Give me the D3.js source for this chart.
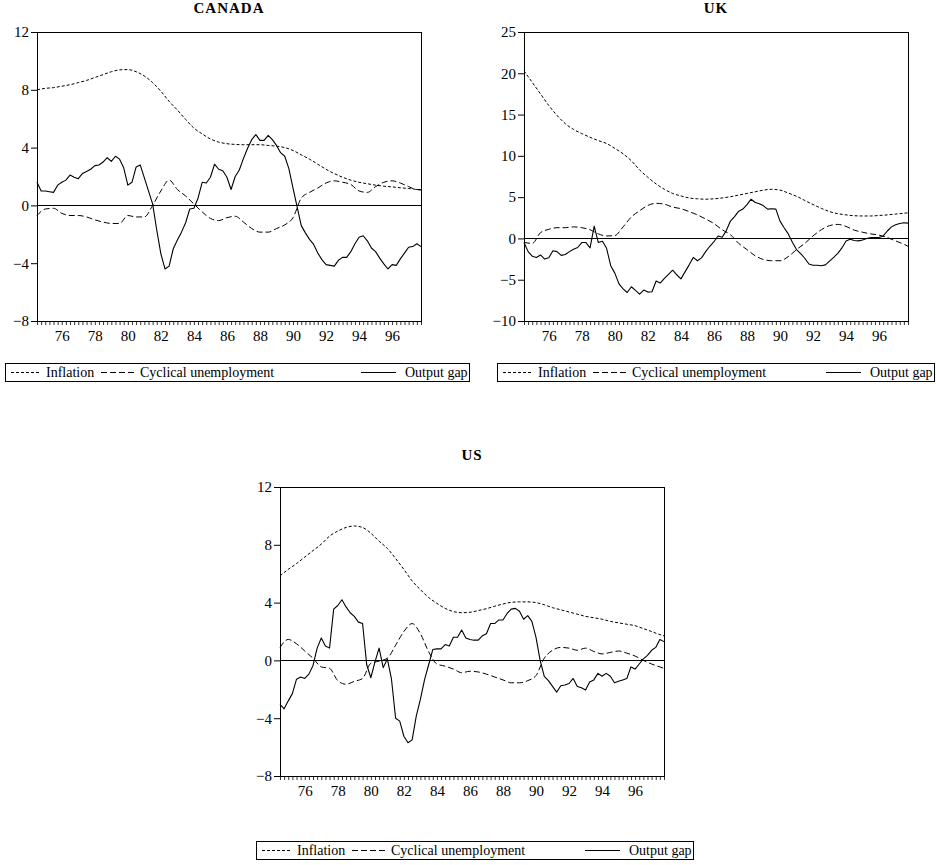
<!DOCTYPE html>
<html><head><meta charset="utf-8">
<script src="https://cdn.jsdelivr.net/npm/d3@7"></script>
<style>
body{margin:0;background:#fff}
svg{display:block}
text{font-family:"Liberation Serif","Times New Roman",Times,serif;fill:#000}
</style>
</head><body>
<svg id="c" width="936" height="865"></svg>
<script>
// ---- data ----
const yearLabels = ["76","78","80","82","84","86","88","90","92","94","96"];
const labelYears = [1976,1978,1980,1982,1984,1986,1988,1990,1992,1994,1996];
const seriesNames = ["Inflation","Cyclical unemployment","Output gap"];
// quarterly observations 1974Q3 .. 1997Q4 (94); half-yearly smooth series (48)

const canadaOutputGap = [1.6,1.0,1.0,0.95,0.9,1.4,1.6,1.75,2.1,1.95,
 1.85,2.2,2.35,2.5,2.75,2.8,3.0,3.3,3.05,3.4,
 3.2,2.6,1.4,1.6,2.65,2.8,1.9,1.0,0.1,-1.7,
 -3.35,-4.4,-4.2,-3.0,-2.4,-1.85,-1.2,-0.25,-0.2,0.5,
 1.6,1.55,1.95,2.85,2.5,2.4,1.95,1.1,2.0,2.45,
 3.25,3.95,4.55,4.9,4.5,4.5,4.85,4.55,4.15,3.65,
 3.4,2.55,1.2,-0.1,-1.4,-1.9,-2.35,-2.7,-3.3,-3.75,
 -4.1,-4.15,-4.2,-3.8,-3.6,-3.6,-3.2,-2.65,-2.2,-2.1,
 -2.45,-2.95,-3.2,-3.65,-4.05,-4.4,-4.1,-4.15,-3.7,-3.3,
 -2.9,-2.85,-2.65,-2.85];
const canadaUnemployment = [-0.7,-0.25,-0.2,-0.55,-0.7,-0.7,-0.8,-1.0,-1.15,-1.25,
 -1.25,-0.7,-0.8,-0.8,0.0,1.0,1.75,1.1,0.65,0.1,
 -0.45,-0.9,-1.05,-0.85,-0.75,-1.15,-1.6,-1.85,-1.85,-1.6,
 -1.35,-0.85,0.5,0.9,1.2,1.55,1.7,1.6,1.45,1.0,
 0.9,1.3,1.6,1.7,1.55,1.3,1.1,1.1];
const canadaInflation = [8.0,8.1,8.15,8.25,8.35,8.5,8.65,8.85,9.05,9.25,
 9.38,9.4,9.25,8.95,8.5,7.9,7.2,6.6,5.95,5.35,
 4.95,4.6,4.38,4.27,4.22,4.2,4.2,4.2,4.15,4.1,
 4.0,3.8,3.5,3.2,2.85,2.5,2.2,1.95,1.75,1.6,
 1.5,1.4,1.33,1.28,1.22,1.17,1.1,1.05];

const ukOutputGap = [-0.5,-1.6,-2.15,-2.3,-2.0,-2.5,-2.35,-1.5,-1.6,-2.05,
 -1.95,-1.6,-1.3,-1.1,-0.5,-0.5,-1.15,1.5,-0.5,-0.35,
 -1.2,-3.3,-4.2,-5.5,-6.1,-6.55,-5.85,-6.3,-6.75,-6.25,
 -6.5,-6.45,-5.15,-5.4,-4.85,-4.35,-3.85,-4.4,-4.9,-4.05,
 -3.2,-2.3,-2.7,-2.35,-1.6,-0.95,-0.4,0.3,0.15,0.95,
 2.1,2.65,3.3,3.55,4.1,4.75,4.35,4.2,3.95,3.55,
 3.6,3.55,2.1,1.3,0.55,-0.45,-1.35,-1.85,-2.4,-3.1,
 -3.25,-3.25,-3.3,-3.2,-2.75,-2.3,-1.8,-1.15,-0.3,-0.1,
 -0.25,-0.3,-0.2,0.0,0.1,0.1,0.1,0.3,0.9,1.4,
 1.65,1.8,1.9,1.85];
const ukUnemployment = [-0.5,-0.6,0.7,1.1,1.3,1.3,1.4,1.3,1.05,0.55,
 0.3,0.35,1.4,2.6,3.35,4.0,4.25,4.15,3.8,3.6,
 3.25,2.85,2.35,1.8,1.05,0.45,-0.6,-1.35,-2.1,-2.55,
 -2.7,-2.7,-2.2,-1.35,-0.6,0.3,1.05,1.55,1.7,1.45,
 1.0,0.75,0.55,0.4,0.1,-0.3,-0.7,-0.95];
const ukInflation = [20.3,18.9,17.5,16.1,14.9,13.9,13.2,12.7,12.25,11.85,
 11.5,10.9,10.25,9.4,8.3,7.4,6.6,5.95,5.45,5.15,
 4.9,4.8,4.75,4.8,4.9,5.05,5.25,5.45,5.65,5.85,
 5.95,5.85,5.5,5.1,4.6,4.1,3.65,3.25,3.0,2.85,
 2.75,2.72,2.72,2.78,2.85,2.95,3.05,3.1];

const usOutputGap = [-3.05,-3.35,-2.8,-2.3,-1.3,-1.15,-1.25,-0.95,-0.35,0.85,
 1.55,1.0,0.85,3.55,3.8,4.2,3.7,3.3,3.05,2.65,
 2.55,-0.3,-1.2,-0.1,0.85,-0.5,0.1,-1.3,-4.0,-4.2,
 -5.25,-5.7,-5.5,-3.85,-2.7,-1.35,-0.3,0.75,0.8,0.8,
 1.1,1.0,1.6,1.6,2.1,1.55,1.45,1.4,1.4,1.7,
 1.85,2.55,2.55,2.8,2.8,3.25,3.55,3.6,3.4,2.85,
 3.1,2.7,1.6,0.0,-1.1,-1.4,-1.8,-2.2,-1.75,-1.7,
 -1.6,-1.25,-1.8,-1.9,-2.05,-1.5,-1.35,-0.9,-1.1,-0.9,
 -1.1,-1.55,-1.45,-1.35,-1.25,-0.45,-0.6,-0.25,0.1,0.35,
 0.7,0.9,1.45,1.3];
const usUnemployment = [0.9,1.45,1.15,0.65,0.15,-0.45,-0.55,-1.4,-1.65,-1.45,
 -1.25,-0.2,-0.05,0.15,1.05,2.0,2.55,1.85,0.6,-0.25,
 -0.4,-0.6,-0.85,-0.75,-0.8,-0.95,-1.15,-1.35,-1.55,-1.55,
 -1.4,-1.05,0.15,0.7,0.9,0.85,0.7,0.85,0.62,0.45,
 0.55,0.65,0.5,0.3,0.0,-0.25,-0.45,-0.55];
const usInflation = [5.85,6.3,6.7,7.15,7.6,8.05,8.6,8.95,9.2,9.3,
 9.2,8.8,8.25,7.75,7.05,6.3,5.5,4.9,4.35,3.95,
 3.6,3.38,3.3,3.33,3.45,3.58,3.75,3.9,4.02,4.05,
 4.05,4.0,3.85,3.65,3.5,3.35,3.2,3.05,2.95,2.85,
 2.7,2.6,2.5,2.4,2.2,2.0,1.78,1.7];

// ---- dates ----
const quarterDates = d3.range(canadaOutputGap.length).map(i => 1974.5 + i * 0.25);
const lastDate = quarterDates[quarterDates.length - 1];
const halfDates = d3.range(canadaInflation.length).map(k => Math.min(1974.5 + k * 0.5, lastDate));

// ---- layout ----
const W = 384, H = 289;
const FONT = '"Liberation Serif","Times New Roman",Times,serif';
const panels = [
  {title:"CANADA", x:37, y:32, titleY:13, domain:[-8,12], ticks:[-8,-4,0,4,8,12],
   legendX:5, legendY:363, legendW:464, gapShift:27,
   inf:canadaInflation, unemp:canadaUnemployment, gap:canadaOutputGap},
  {title:"UK", x:524, y:32, titleY:13, domain:[-10,25], ticks:[-10,-5,0,5,10,15,20,25],
   legendX:497, legendY:363, legendW:437, gapShift:0,
   inf:ukInflation, unemp:ukUnemployment, gap:ukOutputGap},
  {title:"US", x:280, y:487, titleY:460, domain:[-8,12], ticks:[-8,-4,0,4,8,12],
   legendX:256, legendY:841, legendW:437, gapShift:0,
   inf:usInflation, unemp:usUnemployment, gap:usOutputGap}
];
const styles = {
  inf:{dash:"3,2", width:1},
  unemp:{dash:"6,3", width:1},
  gap:{dash:null, width:1.1}
};

const svg = d3.select("#c");

panels.forEach(p => {
  const g = svg.append("g").attr("transform", `translate(${p.x},${p.y})`);
  const x = d3.scaleLinear().domain([quarterDates[0], lastDate]).range([0, W]);
  const y = d3.scaleLinear().domain(p.domain).range([H, 0]);

  // title
  svg.append("text").attr("x", p.x + W/2).attr("y", p.titleY)
    .attr("text-anchor","middle").style("font-size","15px").style("font-weight","bold")
    .style("letter-spacing","1px").style("font-family",FONT)
    .text(p.title);

  // y axis
  const ya = g.append("g").call(d3.axisLeft(y).tickValues(p.ticks).tickSize(6).tickPadding(2).tickFormat(d3.format("d")));
  ya.select(".domain").remove();
  ya.selectAll("line").attr("stroke","#000");
  ya.selectAll("text").style("font-size","15px").style("font-family",FONT).style("fill","#000");

  // x axis minor quarterly ticks
  const xa = g.append("g").attr("transform",`translate(0,${H})`)
    .call(d3.axisBottom(x).tickValues(quarterDates).tickSize(4).tickFormat(""));
  xa.select(".domain").remove();
  xa.selectAll("line").attr("stroke","#000").attr("stroke-width",0.8);
  // x labels
  const xl = g.append("g").attr("transform",`translate(0,${H})`)
    .call(d3.axisBottom(x).tickValues(labelYears).tickSize(0).tickPadding(9)
      .tickFormat((d,i) => yearLabels[i]));
  xl.select(".domain").remove();
  xl.selectAll("text").style("font-size","15px").style("font-family",FONT).style("fill","#000");

  // zero line
  g.append("line").attr("x1",0).attr("x2",W).attr("y1",Math.round(y(0))+0.5).attr("y2",Math.round(y(0))+0.5)
    .attr("stroke","#000").attr("stroke-width",1);

  // series
  const smooth = d3.line().x((d,i)=>x(halfDates[i])).y(d=>y(d)).curve(d3.curveMonotoneX);
  const jag = d3.line().x((d,i)=>x(quarterDates[i])).y(d=>y(d));
  g.append("path").attr("d", smooth(p.inf)).attr("fill","none").attr("stroke","#000")
    .attr("stroke-width",styles.inf.width).attr("stroke-dasharray",styles.inf.dash);
  g.append("path").attr("d", smooth(p.unemp)).attr("fill","none").attr("stroke","#000")
    .attr("stroke-width",styles.unemp.width).attr("stroke-dasharray",styles.unemp.dash);
  g.append("path").attr("d", jag(p.gap)).attr("fill","none").attr("stroke","#000")
    .attr("stroke-width",styles.gap.width).attr("stroke-linejoin","round");

  // frame
  g.append("rect").attr("x",0.5).attr("y",0.5).attr("width",W).attr("height",H)
    .attr("fill","none").attr("stroke","#000").attr("stroke-width",1);

  // legend
  const lg = svg.append("g").attr("transform",`translate(${p.legendX},${p.legendY})`);
  lg.append("rect").attr("x",0.5).attr("y",0.5).attr("width",p.legendW).attr("height",18)
    .attr("fill","none").attr("stroke","#000").attr("stroke-width",1);
  const items = [
    {key:"inf", x0:6, x1:36, tx:41},
    {key:"unemp", x0:96, x1:129, tx:135},
    {key:"gap", x0:329 + p.gapShift, x1:364 + p.gapShift, tx:373 + p.gapShift}
  ];
  items.forEach((it, i) => {
    lg.append("line").attr("x1",it.x0).attr("x2",it.x1).attr("y1",9.5).attr("y2",9.5)
      .attr("stroke","#000").attr("stroke-width",1)
      .attr("stroke-dasharray", styles[it.key].dash);
    lg.append("text").attr("x",it.tx).attr("y",14).style("font-size","14px")
      .style("font-family",FONT).text(seriesNames[i]);
  });
});
</script>
</body></html>
